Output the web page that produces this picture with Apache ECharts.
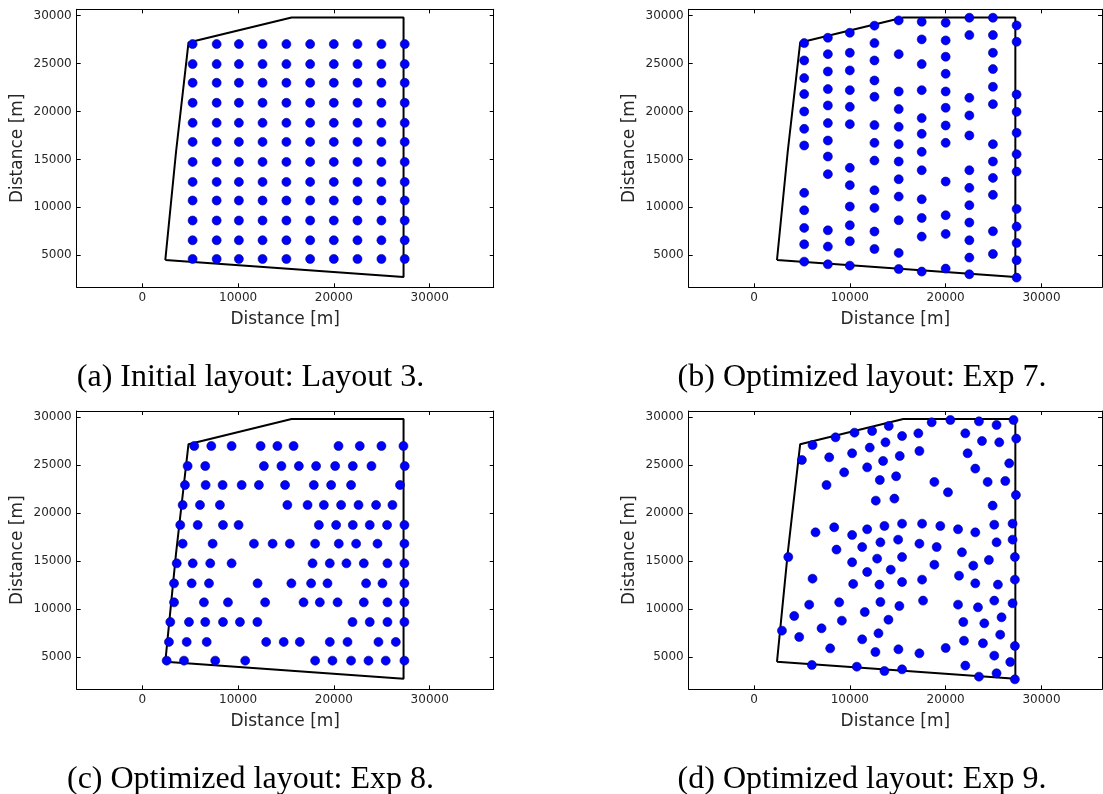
<!DOCTYPE html>
<html>
<head>
<meta charset="utf-8">
<script src="https://cdn.jsdelivr.net/npm/echarts@6/dist/echarts.min.js"></script>
<style>
html,body{margin:0;padding:0;background:#fff;}
#chart{width:1103px;height:794px;}
</style>
</head>
<body>
<div id="chart"></div>
<script>
// ---------- data ----------
const xTicks = [0, 10000, 20000, 30000];
const yTicks = [5000, 10000, 15000, 20000, 25000, 30000];
const axisName = 'Distance [m]';
const captions = ['(a) Initial layout: Layout 3.', '(b) Optimized layout: Exp 7.',
                  '(c) Optimized layout: Exp 8.', '(d) Optimized layout: Exp 9.'];

// site boundary polygon
const boundaryX = [2400, 3520, 4820, 15580, 27270, 27270, 2400];
const boundaryY = [4500, 15800, 27200, 29820, 29820, 2720, 4500];

// (a) initial regular grid: column x positions and row y positions
const layoutA_cols = [5250, 7760, 10080, 12550, 15040, 17520, 19990, 22460, 24960, 27390];
const layoutA_rows = [27040, 24950, 23000, 20910, 18820, 16830, 14740, 12650, 10710, 8620, 6560, 4610];

// (b) Exp 7: column x and the y values of the turbines in each column
const expB_cols = [5240, 7710, 10000, 12570, 15100, 17500, 20000, 22470, 24930, 27400];
const expB_c1 = [27140, 25330, 23490, 21820, 20000, 18190, 16450, 11510, 9690, 7850, 6140, 4330];
const expB_c2 = [27700, 25990, 24180, 22340, 20630, 18790, 16970, 15300, 13460, 7600, 5900, 4050];
const expB_c3 = [28220, 26130, 24290, 22230, 20490, 18680, 14120, 12310, 10080, 8130, 6460, 3910];
const expB_c4 = [28960, 27140, 25330, 23240, 21540, 18580, 16730, 14880, 11780, 9940, 7470, 5650];
const expB_c5 = [29510, 25990, 22090, 20250, 18400, 16590, 14780, 12930, 11120, 8650, 5240, 3560];
const expB_c6 = [29370, 27530, 24950, 22230, 19310, 17670, 15790, 13870, 10840, 8890, 6940, 3290];
const expB_c7 = [29270, 27420, 25720, 23940, 22090, 20390, 18540, 16730, 12690, 9170, 7220, 3600];
const expB_c8 = [29790, 27980, 21430, 19590, 17500, 13870, 12030, 10220, 8410, 6560, 4750, 3010];
const expB_c9 = [29790, 27980, 26130, 24430, 22580, 20770, 16590, 14780, 13070, 11300, 7500, 5130];
const expB_c10 = [28990, 27280, 21780, 19970, 17780, 15550, 13730, 9830, 7990, 6280, 4470, 2660];

// (c) Exp 8: row y and the x values of the turbines in each row
const expC_rows = [27010, 24920, 22940, 20860, 18770, 16820, 14770, 12680, 10700, 8650, 6570, 4620];
const expC_r1 = [5420, 7200, 9320, 12350, 14100, 15790, 20480, 22700, 24960, 27260];
const expC_r2 = [4730, 6570, 12690, 14520, 16340, 18140, 20130, 21970, 23920, 27390];
const expC_r3 = [4450, 6610, 8380, 10370, 12170, 14900, 17900, 19710, 21790, 26900];
const expC_r4 = [4210, 6020, 8100, 15140, 17250, 18950, 20750, 22570, 24400, 26110];
const expC_r5 = [3960, 5780, 8420, 10050, 18430, 20230, 21970, 23740, 25550, 27360];
const expC_r6 = [4210, 7340, 11650, 13600, 15400, 18040, 20510, 22320, 24550, 27360];
const expC_r7 = [3590, 5260, 7090, 9320, 17770, 19570, 21310, 23120, 25590, 27360];
const expC_r8 = [3310, 5150, 6960, 12030, 15560, 17620, 19330, 23360, 25070, 27360];
const expC_r9 = [3310, 6430, 8940, 12820, 16830, 18530, 20380, 23120, 25590, 27360];
const expC_r10 = [2920, 4870, 6570, 8420, 10190, 12010, 21940, 23740, 25590, 27360];
const expC_r11 = [2780, 4630, 6720, 12930, 14760, 16440, 19570, 21420, 24650, 26460];
const expC_r12 = [2540, 4350, 7610, 10740, 18040, 19850, 21790, 23610, 25410, 27360];

// (d) Exp 9: free positions [x, y]
const expD = [
 [6110,27110],[8510,27910],[5000,25550],[7850,25830],[9410,24260],[7570,22940],[8370,18530],[6420,18000],
 [8610,16200],[3580,15430],[6110,13170],[5760,10460],[8890,10700],[4200,9280],[9170,8790],[2920,7750],
 [7050,7990],[4720,7090],[7950,5900],[6040,4170],
 [10490,28400],[12330,28570],[14060,29100],[15450,28050],[17150,28330],[18540,29480],[20490,29720],
 [23470,29580],[25310,29200],[27080,29720],
 [22050,28330],[23790,27530],[25590,27390],[27360,27780],
 [10240,26250],[12080,26840],[13720,27390],[15210,25970],[17260,26490],[22290,26250],
 [11810,24780],[13470,25450],[26630,25200],
 [13130,23460],[14830,23850],[18820,23260],[23090,24650],[24380,23260],[26220,23360],
 [12710,21310],[14650,21520],[20240,22180],[24900,20790],[27330,21900],
 [10240,17730],[11810,18320],[13610,18670],[15450,18910],[17540,18910],[19440,18670],[21290,18320],
 [23090,18000],[25070,18800],[26980,18910],
 [11290,16470],[13190,16960],[15040,17240],[17260,16820],[19060,16470],[21700,15920],[25310,16960],[26980,17240],
 [10240,14880],[12850,15260],[15450,15430],[18820,14630],[22880,14530],[24510,15120],[27220,15430],
 [11810,13870],[14270,14110],[21390,13480],
 [10350,12620],[13090,12550],[15450,12820],[17540,13070],[23090,12680],[25450,12550],[27220,13070],
 [13190,10740],[15170,10320],[17640,10880],[21290,10460],[23370,10180],[25070,10880],[26980,10600],
 [11560,9690],[14030,8890],[21840,8650],[24030,8510],[25830,9140],
 [11290,6840],[12990,7470],[21910,6700],[23890,6430],[25690,7330],[27220,6150],
 [12670,5520],[15070,5800],[17260,5380],[20000,5940],[25070,5140],[26740,4480],
 [10730,3990],[13610,3540],[15450,3710],[22050,4100],[23470,2950],[25310,3300],[27220,2670]
];

// ---------- build point lists ----------
const boundary = boundaryX.map((x, i) => [x, boundaryY[i]]);
const ptsA = [];
layoutA_rows.forEach(y => layoutA_cols.forEach(x => ptsA.push([x, y])));
const expB_cy = [expB_c1, expB_c2, expB_c3, expB_c4, expB_c5, expB_c6, expB_c7, expB_c8, expB_c9, expB_c10];
const ptsB = [];
expB_cols.forEach((x, i) => expB_cy[i].forEach(y => ptsB.push([x, y])));
const expC_rx = [expC_r1, expC_r2, expC_r3, expC_r4, expC_r5, expC_r6, expC_r7, expC_r8, expC_r9, expC_r10, expC_r11, expC_r12];
const ptsC = [];
expC_rows.forEach((y, i) => expC_rx[i].forEach(x => ptsC.push([x, y])));
const panels = [ptsA, ptsB, ptsC, expD];

// ---------- layout ----------
const grids = [
  {left: 76.7, top: 9.3, width: 417, height: 278, xmin: -6850, xmax: 36680, ymin: 1650, ymax: 30670},
  {left: 688.7, top: 9.3, width: 413.3, height: 278, xmin: -6810, xmax: 36310, ymin: 1650, ymax: 30670},
  {left: 76.7, top: 411, width: 417, height: 278.3, xmin: -6850, xmax: 36680, ymin: 1630, ymax: 30660},
  {left: 688.7, top: 411, width: 413.3, height: 278.3, xmin: -6810, xmax: 36310, ymin: 1630, ymax: 30660}
];
const captionPos = [[250.5, 378], [862, 378], [250.5, 780], [862, 780]];

const txt = '#262626';
const font = 'DejaVu Sans';
const plain = v => String(v);
const xAxes = [], yAxes = [], series = [], gridOpts = [];
grids.forEach((g, i) => {
  gridOpts.push({left: g.left, top: g.top, width: g.width, height: g.height, containLabel: false});
  const line = {show: true, onZero: false, lineStyle: {color: '#000', width: 1}};
  const tickX = {show: true, inside: true, length: 4, customValues: xTicks, lineStyle: {color: '#000', width: 1}};
  const tickY = {show: true, inside: true, length: 4, customValues: yTicks, lineStyle: {color: '#000', width: 1}};
  xAxes.push({type: 'value', gridIndex: i, min: g.xmin, max: g.xmax, position: 'bottom',
    axisLine: line, axisTick: tickX, splitLine: {show: false},
    axisLabel: {customValues: xTicks, formatter: plain, color: txt, fontSize: 12, fontFamily: font, margin: 5},
    name: axisName, nameLocation: 'middle', nameGap: 24,
    nameTextStyle: {fontSize: 17, fontFamily: font, color: txt}});
  xAxes.push({type: 'value', gridIndex: i, min: g.xmin, max: g.xmax, position: 'top',
    axisLine: line, axisTick: tickX, splitLine: {show: false}, axisLabel: {show: false}});
  yAxes.push({type: 'value', gridIndex: i, min: g.ymin, max: g.ymax, position: 'left',
    axisLine: line, axisTick: tickY, splitLine: {show: false},
    axisLabel: {customValues: yTicks, formatter: plain, color: txt, fontSize: 12, fontFamily: font, margin: 5},
    name: axisName, nameLocation: 'middle', nameGap: 51, nameRotate: 90,
    nameTextStyle: {fontSize: 17, fontFamily: font, color: txt}});
  yAxes.push({type: 'value', gridIndex: i, min: g.ymin, max: g.ymax, position: 'right',
    axisLine: line, axisTick: tickY, splitLine: {show: false}, axisLabel: {show: false}});
  series.push({type: 'line', xAxisIndex: 2 * i, yAxisIndex: 2 * i, data: boundary,
    symbol: 'none', lineStyle: {color: '#000', width: 2}, silent: true, z: 2});
  series.push({type: 'scatter', xAxisIndex: 2 * i, yAxisIndex: 2 * i, data: panels[i],
    symbol: 'circle', symbolSize: 9,
    itemStyle: {color: '#0000ff', borderColor: '#00007a', borderWidth: 0.6, opacity: 1}, z: 3});
});

const graphics = captions.map((c, i) => ({
  type: 'text', x: captionPos[i][0], y: captionPos[i][1],
  style: {text: c, fontSize: 32, fontFamily: 'Liberation Serif', fill: '#000',
          align: 'center', verticalAlign: 'middle'}
}));

const chart = echarts.init(document.getElementById('chart'), null, {renderer: 'canvas'});
chart.setOption({
  animation: false,
  backgroundColor: '#fff',
  grid: gridOpts,
  xAxis: xAxes,
  yAxis: yAxes,
  series: series,
  graphic: graphics
});
</script>
</body>
</html>
